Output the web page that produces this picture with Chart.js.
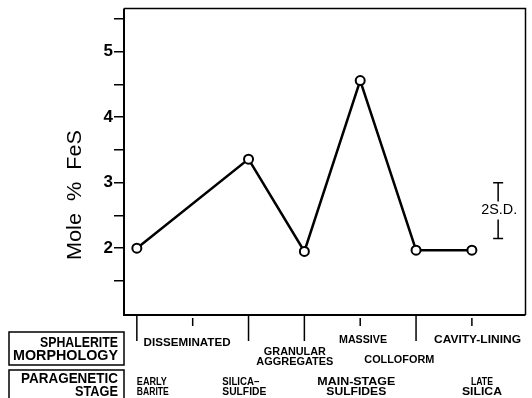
<!DOCTYPE html>
<html><head><meta charset="utf-8">
<script src="https://cdn.jsdelivr.net/npm/chart.js@4"></script>
<style>html,body{margin:0;padding:0;background:#fff}#c{display:block}</style>
</head>
<body>
<canvas id="c" width="532" height="398"></canvas>
<script>
// ---- data ----
const xPositions = [0, 2, 3, 4, 5, 6];
const feValues = [2.00, 3.36, 1.95, 4.56, 1.97, 1.97];
const yTickValues = [1.5, 2, 2.5, 3, 3.5, 4, 4.5, 5, 5.5];
const yTickLabels = ['', '2', '', '3', '', '4', '', '5', ''];
const xTickValues = [0, 1, 2, 3, 4, 5, 6];
const xTickIsBoundary = [true, false, true, true, false, true, false];
const morphologyLabels = [['DISSEMINATED'], ['GRANULAR', 'AGGREGATES'], ['MASSIVE'], ['COLLOFORM'], ['CAVITY-LINING']];
const stageLabels = [['EARLY', 'BARITE'], ['SILICA\u2013', 'SULFIDE'], ['MAIN-STAGE', 'SULFIDES'], ['LATE', 'SILICA']];
const sdBarX = 6.47;
const sdBarRange = [2.15, 3.0];
const sdLabel = '2S.D.';
const yTitle = 'Mole  %  FeS';
const rowTitles = [['SPHALERITE', 'MORPHOLOGY'], ['PARAGENETIC', 'STAGE']];

// ---- layout (positions in x data units / pixels) ----
const morphLayout = [
  {x: 0.9, y: [343], align: 'center', w: [87]},
  {x: 2.83, y: [352, 362], align: 'center', w: [62, 77]},
  {x: 4.05, y: [340], align: 'center', w: [48]},
  {x: 4.7, y: [360], align: 'center', w: [70]},
  {x: 6.1, y: [340], align: 'center', w: [87]}
];
const stageLayout = [
  {x: 0.0, y: [382, 392], align: 'left', w: [30, 32]},
  {x: 1.53, y: [382, 392], align: 'left', w: [37, 44]},
  {x: 3.93, y: [382, 392], align: 'center', w: [78, 60]},
  {x: 6.18, y: [382, 392], align: 'center', w: [22, 40]}
];

// draw text squeezed horizontally to a given width (height kept)
function squeezeText(ctx, text, x, y, w, align) {
  const m = ctx.measureText(text).width;
  const sx = w / m;
  ctx.save();
  ctx.translate(x, y);
  ctx.scale(sx, 1);
  ctx.textAlign = align;
  ctx.fillText(text, 0, 0);
  ctx.restore();
}

const decor = {
  id: 'decor',
  afterDraw(chart) {
    const ctx = chart.ctx;
    const xs = chart.scales.x, ys = chart.scales.y;
    const top = ys.getPixelForValue(ys.max), bottom = ys.getPixelForValue(ys.min);
    const left = xs.getPixelForValue(xs.min), right = xs.getPixelForValue(xs.max);
    ctx.save();
    ctx.strokeStyle = '#000';
    ctx.fillStyle = '#000';
    ctx.lineCap = 'butt';
    // frame
    ctx.lineWidth = 2;
    ctx.beginPath();
    ctx.moveTo(left, top); ctx.lineTo(left, bottom); ctx.lineTo(right, bottom);
    ctx.stroke();
    ctx.lineWidth = 1.5;
    ctx.beginPath();
    ctx.moveTo(left, top); ctx.lineTo(right, top); ctx.lineTo(right, bottom);
    ctx.stroke();
    // x ticks
    ctx.lineWidth = 1.5;
    xTickValues.forEach((v, i) => {
      const px = xs.getPixelForValue(v);
      ctx.beginPath();
      ctx.moveTo(px, bottom + (xTickIsBoundary[i] ? 0 : 3));
      ctx.lineTo(px, bottom + (xTickIsBoundary[i] ? 26 : 11));
      ctx.stroke();
    });
    // 2 S.D. bar
    const bx = xs.getPixelForValue(sdBarX);
    const by1 = ys.getPixelForValue(sdBarRange[1]);
    const by0 = ys.getPixelForValue(sdBarRange[0]);
    const bm = (by0 + by1) / 2;
    ctx.lineWidth = 1.5;
    ctx.beginPath();
    ctx.moveTo(bx, by1); ctx.lineTo(bx, bm - 9);
    ctx.moveTo(bx, bm + 9); ctx.lineTo(bx, by0);
    ctx.moveTo(bx - 5, by1); ctx.lineTo(bx + 5, by1);
    ctx.moveTo(bx - 5, by0); ctx.lineTo(bx + 5, by0);
    ctx.stroke();
    ctx.textBaseline = 'middle';
    ctx.font = '14px "Liberation Sans", Arial, sans-serif';
    squeezeText(ctx, sdLabel, bx + 1, bm, 36, 'center');
    // y title
    ctx.save();
    ctx.translate(75, 195);
    ctx.rotate(-Math.PI / 2);
    ctx.font = '21px "Liberation Sans", Arial, sans-serif';
    squeezeText(ctx, yTitle, 0, 0, 130, 'center');
    ctx.restore();
    // row title boxes
    ctx.lineWidth = 1.5;
    ctx.strokeRect(9, 332, 115, 33);
    ctx.strokeRect(9, 370, 115, 40);
    ctx.font = 'bold 15px "Liberation Sans", Arial, sans-serif';
    squeezeText(ctx, rowTitles[0][0], 118, 343, 78, 'right');
    squeezeText(ctx, rowTitles[0][1], 118, 356, 105, 'right');
    squeezeText(ctx, rowTitles[1][0], 118, 379, 97, 'right');
    squeezeText(ctx, rowTitles[1][1], 118, 392, 43, 'right');
    // category labels
    ctx.font = 'bold 11.5px "Liberation Sans", Arial, sans-serif';
    const drawGroup = (labels, layout) => {
      labels.forEach((lines, i) => {
        const L = layout[i];
        const px = xs.getPixelForValue(L.x);
        lines.forEach((t, j) => squeezeText(ctx, t, px, L.y[j], L.w[j], L.align));
      });
    };
    drawGroup(morphologyLabels, morphLayout);
    drawGroup(stageLabels, stageLayout);
    ctx.restore();
  }
};

new Chart(document.getElementById('c'), {
  type: 'scatter',
  data: {
    datasets: [{
      data: xPositions.map((x, i) => ({x: x, y: feValues[i]})),
      showLine: true,
      borderColor: '#000',
      borderWidth: 2.5,
      pointRadius: 4.5,
      pointBackgroundColor: '#fff',
      pointBorderColor: '#000',
      pointBorderWidth: 2,
      tension: 0
    }]
  },
  options: {
    responsive: false,
    devicePixelRatio: 1,
    animation: false,
    layout: {padding: {left: 0, top: 8.5, right: 4, bottom: 0}},
    plugins: {legend: {display: false}, tooltip: {enabled: false}},
    scales: {
      x: {
        type: 'linear', min: -0.23, max: 6.96,
        ticks: {display: false},
        grid: {display: false},
        border: {display: false},
        afterFit: s => { s.height = 83; s.paddingLeft = 0; s.paddingRight = 0; }
      },
      y: {
        min: 0.98, max: 5.66,
        afterBuildTicks: s => { s.ticks = yTickValues.map(v => ({value: v})); },
        ticks: {
          callback: (v, i) => yTickLabels[i],
          color: '#000',
          font: {family: '"Liberation Sans", Arial, sans-serif', size: 17, weight: 'bold'},
          padding: 1
        },
        grid: {drawOnChartArea: false, tickLength: 10, color: '#000', lineWidth: 1.5},
        border: {display: false},
        afterFit: s => { s.width = 124; s.paddingTop = 0; s.paddingBottom = 0; }
      }
    }
  },
  plugins: [decor]
});
</script>
</body></html>
